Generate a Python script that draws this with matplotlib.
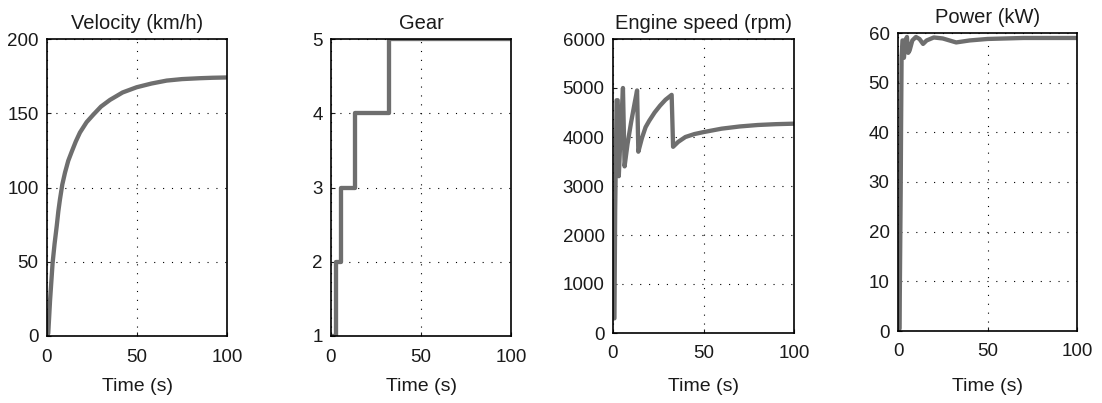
import numpy as np
import matplotlib.pyplot as plt

plt.rcParams['font.family'] = ['Liberation Sans', 'DejaVu Sans']

# velocity (km/h)
t_vel = [0, 0.7, 1.7, 3.1, 4.2, 5.4, 6.3, 7.2, 8.5, 10, 11.8, 13.7, 16, 18.3, 22, 25.7,
         30, 35, 42, 49.8, 58, 66.5, 75, 85, 92, 100]
vel = [0, 1.8, 24, 49, 62, 74, 84, 92, 102, 110, 118, 124, 131, 137, 144, 149, 154.5,
       159, 164, 167.5, 170, 172, 173, 173.6, 173.9, 174.1]

# gear
t_gear = [0, 2.9, 5.7, 13.5, 32.4, 100]
gear = [1, 2, 3, 4, 5, 5]

# engine speed (rpm)
t_rpm = [0, 0.8, 1.2, 2.0, 2.6, 3.2, 4.0, 5.5, 6.4, 8, 10, 12, 13.3, 14.0, 16, 18,
         20, 23, 26, 29, 32.4, 33.2, 36, 40, 45, 50, 60, 70, 80, 90, 100]
rpm = [300, 300, 2500, 4750, 4750, 3200, 3900, 5000, 3400, 3850, 4300, 4700, 4950,
       3700, 3980, 4200, 4330, 4500, 4640, 4760, 4860, 3800, 3900, 4000, 4060, 4100,
       4170, 4215, 4245, 4262, 4272]

# power (kW)
t_pow = [0, 0.9, 1.0, 1.5, 1.7, 2.0, 2.5, 3.0, 3.3, 4.2, 5.0, 5.7, 6.5, 8, 10, 12,
         14, 16, 20, 25, 32.5, 40, 50, 70, 100]
power = [0, 0.5, 7, 28, 40, 55, 58.5, 58.5, 55, 58.5, 59.2, 56, 56.5, 58.5, 59.2, 58.8,
         57.8, 58.5, 59.1, 58.9, 58.1, 58.5, 58.8, 59, 59]

W, H = 1102, 403
fig = plt.figure(figsize=(W / 100, H / 100), dpi=100)

# pixel boxes: left, top, right, bottom
boxes = [(47, 39, 227, 336), (331, 39, 511, 336), (613, 39, 794, 333), (898, 33, 1077, 331)]
titles = ['Velocity (km/h)', 'Gear', 'Engine speed (rpm)', 'Power (kW)']
xs = [t_vel, t_gear, t_rpm, t_pow]
ys = [vel, gear, rpm, power]
ylims = [(0, 200), (1, 5), (0, 6000), (0, 60)]
yticks = [[0, 50, 100, 150, 200], [1, 2, 3, 4, 5], list(range(0, 6001, 1000)),
          list(range(0, 61, 10))]

line_col = '#6e6e6e'
txt_col = '#1a1a1a'
for i in range(4):
    l, t, r, b = boxes[i]
    ax = fig.add_axes([l / W, (H - b) / H, (r - l) / W, (b - t) / H])
    if i == 1:
        ax.step(xs[i], ys[i], where='post', color=line_col, lw=3.1)
    else:
        ax.plot(xs[i], ys[i], color=line_col, lw=3.1)
    ax.set_xlim(0, 100)
    ax.set_ylim(*ylims[i])
    ax.set_xticks([0, 50, 100])
    ax.set_yticks(yticks[i])
    ax.grid(True, color='black', linestyle=(0, (1, 7)), linewidth=0.8)
    ax.tick_params(direction='in', length=3, labelsize=13.5, colors=txt_col)
    ax.tick_params(axis='x', pad=9)
    ax.tick_params(axis='y', pad=6)
    for s in ax.spines.values():
        s.set_linewidth(1.2)
        s.set_color('black')
    ax.set_title(titles[i], fontsize=14.5, pad=7, color=txt_col)
    ax.set_xlabel('Time (s)', fontsize=14, color=txt_col)
    ax.xaxis.set_label_coords(0.5, (b - 378) / (b - t))

fig.savefig('out.png', dpi=100)
